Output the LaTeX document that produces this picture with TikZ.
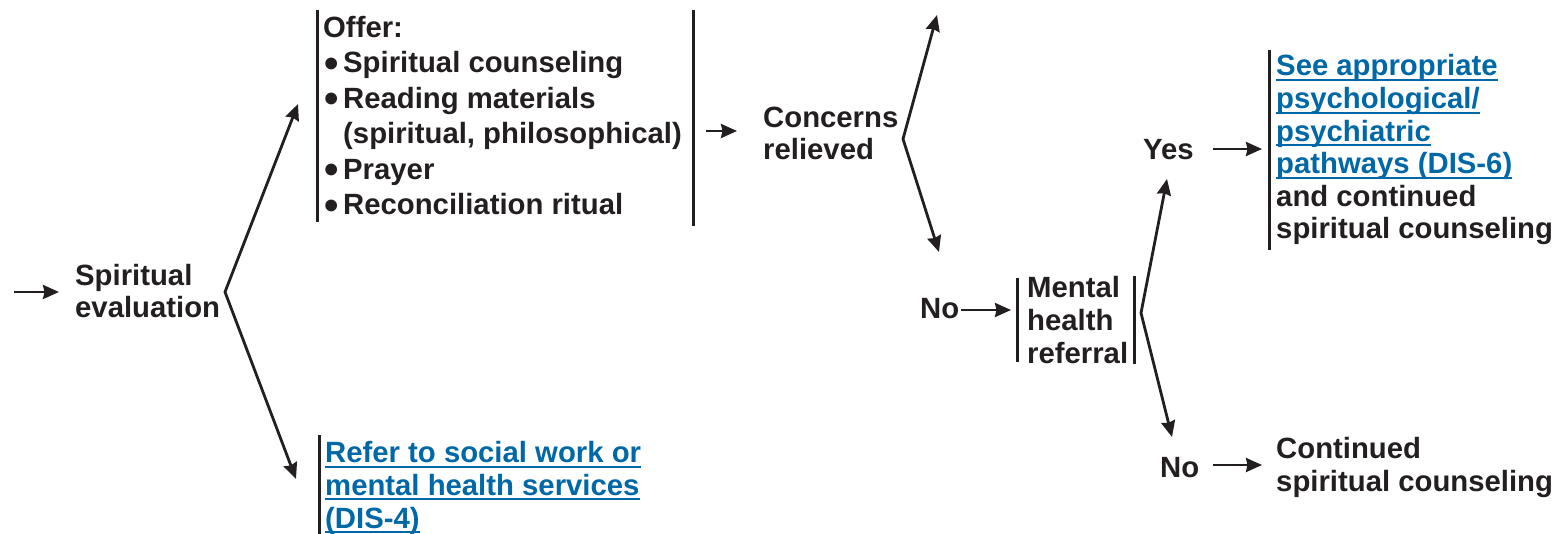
\documentclass[tikz,border=0pt]{standalone}
\usepackage{fontspec}
\usepackage{graphicx}
\setmainfont{Liberation Sans}
\usetikzlibrary{arrows.meta}
\definecolor{ink}{HTML}{231F20}
\definecolor{link}{RGB}{0,104,166}
% underlined cross-reference text
\newcommand\lnk[1]{\textcolor{link}{\setbox0\hbox{#1}\rlap{\rule[-5pt]{\wd0}{2pt}}\box0}}
% enlarged bullet with hanging space
\newcommand\bul{\makebox[20pt][l]{\hspace*{1pt}\smash{\raisebox{-0.15em}{\scalebox{1.4}{\textbullet}}}}}
\tikzset{headtip/.tip={Stealth[length=16pt,width=14pt,inset=1.5pt]}}
\begin{document}
\begin{tikzpicture}[x=1pt,y=-1pt,
  % multi-line texts are placed by the baseline of their last line
  txt/.style={inner sep=0pt, anchor=base west, align=left, text=ink,
    font=\fontsize{29.3}{32.6}\selectfont\bfseries},
  arr/.style={draw=ink, line width=2.8pt, -headtip},
  fork/.style={draw=ink, line width=2.8pt, line join=miter, headtip-headtip},
  bar/.style={draw=ink, line width=3pt}]
\useasboundingbox (0,0) rectangle (1566,534);

% entry and first decision
\coordinate (start) at (14,292);
\coordinate (evalin) at (59,292);
\node[txt] (eval) at (75,318) {Spiritual\\evaluation};
\draw[arr] (start) -- (evalin);
\coordinate (fork1) at (225,292);
\coordinate (offerin) at (298,104);
\coordinate (referin) at (296,479);
\draw[fork] (offerin) -- (fork1) -- (referin);

% offer box
\node[txt, font=\fontsize{29.3}{35.5}\selectfont\bfseries] (offer) at (323,215)
  {Offer:\\\bul Spiritual counseling\\\bul Reading materials\\\hspace*{20pt}(spiritual, philosophical)\\\bul Prayer\\\bul Reconciliation ritual};
\draw[bar] (317,10) -- (317,222);
\draw[bar] (693,10) -- (693,226);
\coordinate (offerout) at (706,131);
\coordinate (concin) at (737,131);
\draw[arr] (offerout) -- (concin);

% concerns relieved
\node[txt] (conc) at (763,160) {Concerns\\relieved};
\coordinate (fork2) at (903,139);
\coordinate (yesin) at (937,15);
\coordinate (noin) at (939,252);
\draw[fork] (yesin) -- (fork2) -- (noin);

% not relieved: mental health referral
\node[txt] (no1) at (920,319) {No};
\coordinate (no1out) at (961,310);
\coordinate (mhrin) at (1011,310);
\draw[arr] (no1out) -- (mhrin);
\node[txt] (mhr) at (1027,363) {Mental\\health\\referral};
\draw[bar] (1017,278) -- (1017,362);
\draw[bar] (1134,276) -- (1134,364);
\coordinate (fork3) at (1141,313);
\coordinate (yes2in) at (1167,179);
\coordinate (no2in) at (1172,437);
\draw[fork] (yes2in) -- (fork3) -- (no2in);

% yes branch
\node[txt] (yes) at (1143,160) {Yes};
\coordinate (yesout) at (1213,149);
\coordinate (seein) at (1262,149);
\draw[arr] (yesout) -- (seein);
\node[txt] (see) at (1276,239)
  {\lnk{See appropriate}\\\lnk{psychological/}\\\lnk{psychiatric}\\\lnk{pathways (DIS-6)}\\and continued\\spiritual counseling};
\draw[bar] (1269,50) -- (1269,250);

% no branch
\node[txt] (no2) at (1160,477) {No};
\coordinate (no2out) at (1213,465);
\coordinate (contin) at (1262,465);
\draw[arr] (no2out) -- (contin);
\node[txt] (cont) at (1276,491) {Continued\\spiritual counseling};

% referral box
\node[txt] (refer) at (325,528)
  {\lnk{Refer to social work or}\\\lnk{mental health services}\\\lnk{(DIS-4)}};
\draw[bar] (319,435) -- (319,534);
\end{tikzpicture}
\end{document}
